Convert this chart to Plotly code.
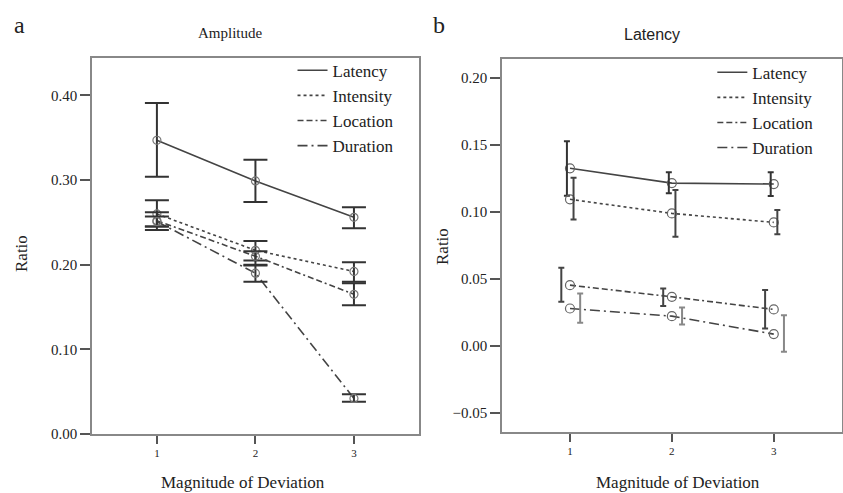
import plotly.graph_objects as go

magnitude = [1, 2, 3]
series_names = ["Latency", "Intensity", "Location", "Duration"]

# Panel a: Amplitude
amp_mean = {
    "Latency":   [0.347, 0.299, 0.256],
    "Intensity": [0.260, 0.217, 0.192],
    "Location":  [0.252, 0.210, 0.165],
    "Duration":  [0.251, 0.190, 0.042],
}
amp_lo = {
    "Latency":   [0.304, 0.274, 0.243],
    "Intensity": [0.245, 0.205, 0.180],
    "Location":  [0.241, 0.200, 0.152],
    "Duration":  [0.245, 0.180, 0.038],
}
amp_hi = {
    "Latency":   [0.391, 0.324, 0.268],
    "Intensity": [0.276, 0.228, 0.203],
    "Location":  [0.262, 0.216, 0.178],
    "Duration":  [0.257, 0.199, 0.047],
}

# Panel b: Latency
lat_mean = {
    "Latency":   [0.1326, 0.1216, 0.1209],
    "Intensity": [0.1095, 0.0990, 0.0923],
    "Location":  [0.0455, 0.0368, 0.0274],
    "Duration":  [0.0281, 0.0224, 0.0090],
}
lat_lo = {
    "Latency":   [0.1122, 0.1140, 0.1120],
    "Intensity": [0.0945, 0.0816, 0.0834],
    "Location":  [0.0331, 0.0300, 0.0132],
    "Duration":  [0.0174, 0.0162, -0.0042],
}
lat_hi = {
    "Latency":   [0.1528, 0.1296, 0.1296],
    "Intensity": [0.1256, 0.1164, 0.1015],
    "Location":  [0.0585, 0.0430, 0.0418],
    "Duration":  [0.0393, 0.0289, 0.0231],
}

# styles
dash_style = {"Latency": "solid", "Intensity": "dot",
              "Location": "6px,3px,6px,3px,2px,3px", "Duration": "10px,4px,2px,4px"}
b_offset = {"Latency": -0.03, "Intensity": 0.035, "Location": -0.085, "Duration": 0.1}
b_err_color = {"Latency": "#333", "Intensity": "#444", "Location": "#444", "Duration": "#888"}

LINE = "#444"
SERIF = "Times New Roman, Liberation Serif, Times, DejaVu Serif, serif"
SANS = "Arial, Liberation Sans, Helvetica, sans-serif"
fig = go.Figure()

for name in series_names:
    # panel a
    fig.add_trace(go.Scatter(x=magnitude, y=amp_mean[name], mode="lines", name=name,
                             line=dict(color=LINE, width=1.6, dash=dash_style[name]),
                             xaxis="x", yaxis="y", legend="legend"))
    fig.add_trace(go.Scatter(
        x=magnitude, y=amp_mean[name], mode="markers", showlegend=False,
        marker=dict(symbol="circle-open", size=8, color="#777", line=dict(width=1.2)),
        error_y=dict(type="data",
                     array=[h - m for h, m in zip(amp_hi[name], amp_mean[name])],
                     arrayminus=[m - l for m, l in zip(amp_mean[name], amp_lo[name])],
                     color="#333", thickness=2, width=12),
        xaxis="x", yaxis="y"))

for name in series_names:
    # panel b
    fig.add_trace(go.Scatter(x=magnitude, y=lat_mean[name], mode="lines", name=name,
                             line=dict(color=LINE, width=1.6, dash=dash_style[name]),
                             xaxis="x2", yaxis="y2", legend="legend2"))
    fig.add_trace(go.Scatter(
        x=magnitude, y=lat_mean[name], mode="markers", showlegend=False,
        marker=dict(symbol="circle-open", size=9, color="#666", line=dict(width=1.2)),
        xaxis="x2", yaxis="y2"))
    mid = [(h + l) / 2 for h, l in zip(lat_hi[name], lat_lo[name])]
    fig.add_trace(go.Scatter(
        x=[v + b_offset[name] for v in magnitude], y=mid, mode="markers", showlegend=False,
        marker=dict(size=0.1, color="rgba(0,0,0,0)"),
        error_y=dict(type="data",
                     array=[h - c for h, c in zip(lat_hi[name], mid)],
                     arrayminus=[c - l for c, l in zip(mid, lat_lo[name])],
                     color=b_err_color[name], thickness=2, width=3),
        xaxis="x2", yaxis="y2"))

axis_common = dict(showgrid=False, zeroline=False, showline=True, linecolor="#888",
                   linewidth=1.5, mirror=True, ticks="outside", tickcolor="#555",
                   tickwidth=2, automargin=False)

fig.update_layout(
    width=843, height=493, margin=dict(l=0, r=0, t=0, b=0),
    paper_bgcolor="white", plot_bgcolor="white",
    font=dict(family=SERIF, color="#222"),
    xaxis=dict(domain=[0.109, 0.497], range=[0.34, 3.66], tickvals=magnitude,
               ticklen=8, tickfont=dict(size=11, family=SERIF), anchor="y", **axis_common),
    yaxis=dict(domain=[0.1197, 0.882], range=[0, 0.444], tickvals=[0, 0.1, 0.2, 0.3, 0.4],
               tickformat=".2f", ticklen=10, tickfont=dict(size=15, family=SERIF),
               anchor="x", **axis_common),
    xaxis2=dict(domain=[0.5955, 0.9985], range=[0.333, 3.667], tickvals=magnitude,
                ticklen=8, tickfont=dict(size=11, family=SERIF), anchor="y2", **axis_common),
    yaxis2=dict(domain=[0.1237, 0.880], range=[-0.064, 0.214],
                tickvals=[-0.05, 0, 0.05, 0.1, 0.15, 0.2], tickformat=".2f", ticklen=10,
                tickfont=dict(size=15, family=SERIF), anchor="x2", **axis_common),
    legend=dict(x=0.347, y=0.893, xanchor="left", yanchor="top", bgcolor="rgba(0,0,0,0)",
                font=dict(size=17, family=SERIF, color="#222"), itemwidth=30,
                tracegroupgap=0),
    legend2=dict(x=0.845, y=0.889, xanchor="left", yanchor="top", bgcolor="rgba(0,0,0,0)",
                 font=dict(size=17, family=SERIF, color="#222"), itemwidth=30,
                 tracegroupgap=0),
    showlegend=True,
)

ann = [
    dict(text="a", x=19 / 843, y=1 - 25 / 493, font=dict(size=24, family=SERIF)),
    dict(text="b", x=439 / 843, y=1 - 25 / 493, font=dict(size=24, family=SERIF)),
    dict(text="Amplitude", x=230 / 843, y=1 - 33 / 493, font=dict(size=15, family=SERIF)),
    dict(text="Latency", x=652 / 843, y=1 - 34 / 493,
         font=dict(size=16, family=SANS)),
    dict(text="Ratio", x=22 / 843, y=1 - 254 / 493, textangle=-90,
         font=dict(size=17, family=SERIF)),
    dict(text="Ratio", x=442 / 843, y=1 - 247 / 493, textangle=-90,
         font=dict(size=17, family=SERIF)),
    dict(text="Magnitude of Deviation", x=243 / 843, y=1 - 482 / 493,
         font=dict(size=17, family=SERIF)),
    dict(text="Magnitude of Deviation", x=678 / 843, y=1 - 482 / 493,
         font=dict(size=17, family=SERIF)),
]
for a in ann:
    a.update(xref="paper", yref="paper", showarrow=False, xanchor="center", yanchor="middle")
    fig.add_annotation(**a)

fig.write_html("out.html", config={"displayModeBar": False},
               post_script="document.body.style.margin='0';")
